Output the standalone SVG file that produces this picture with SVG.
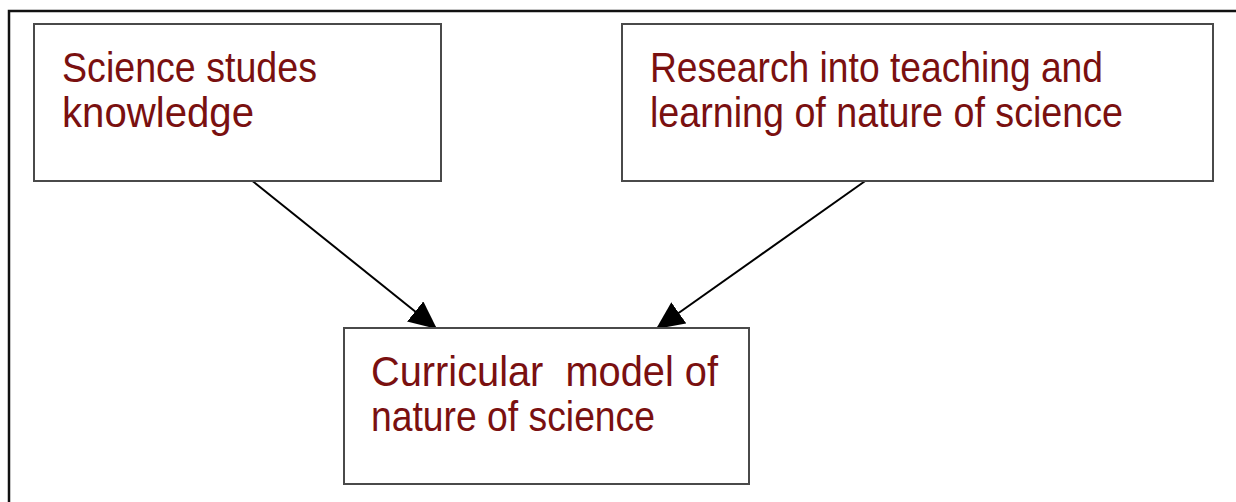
<svg xmlns="http://www.w3.org/2000/svg" width="1236" height="502" viewBox="0 0 1236 502">
<style>
.box{fill:#fff;stroke:#4a4a4a;stroke-width:2}
.lbl{font-family:"Liberation Sans",Arial,sans-serif;font-size:42px;fill:#7a1010}
.conn{stroke:#000;stroke-width:2;fill:none}
.frame{stroke:#111;stroke-width:2.5;fill:none}
</style>
<defs>
<marker id="ah" markerUnits="userSpaceOnUse" markerWidth="30" markerHeight="26" viewBox="0 0 30 26" refX="28" refY="13" orient="auto">
<path d="M0,0 L28,13 L0,26 z" fill="#000"/>
</marker>
</defs>
<rect width="1236" height="502" fill="#fff"/>
<path class="frame" d="M9,502 L9,11 L1236,11"/>
<g id="connectors">
<line class="conn" x1="250" y1="179" x2="437" y2="329" marker-end="url(#ah)"/>
<line class="conn" x1="868" y1="179" x2="656" y2="329" marker-end="url(#ah)"/>
</g>
<g id="node-science-studies">
<rect class="box" x="34" y="24" width="407" height="157"/>
<text class="lbl" x="62" y="82" textLength="255" lengthAdjust="spacingAndGlyphs">Science studes</text>
<text class="lbl" x="62" y="127" textLength="192" lengthAdjust="spacingAndGlyphs">knowledge</text>
</g>
<g id="node-research">
<rect class="box" x="622" y="24" width="591" height="157"/>
<text class="lbl" x="650" y="82" textLength="453" lengthAdjust="spacingAndGlyphs">Research into teaching and</text>
<text class="lbl" x="650" y="127" textLength="473" lengthAdjust="spacingAndGlyphs">learning of nature of science</text>
</g>
<g id="node-curricular">
<rect class="box" x="344" y="328" width="405" height="156"/>
<text class="lbl" x="371" y="386" textLength="347" lengthAdjust="spacingAndGlyphs" xml:space="preserve">Curricular  model of</text>
<text class="lbl" x="371" y="431" textLength="284" lengthAdjust="spacingAndGlyphs">nature of science</text>
</g>
</svg>
